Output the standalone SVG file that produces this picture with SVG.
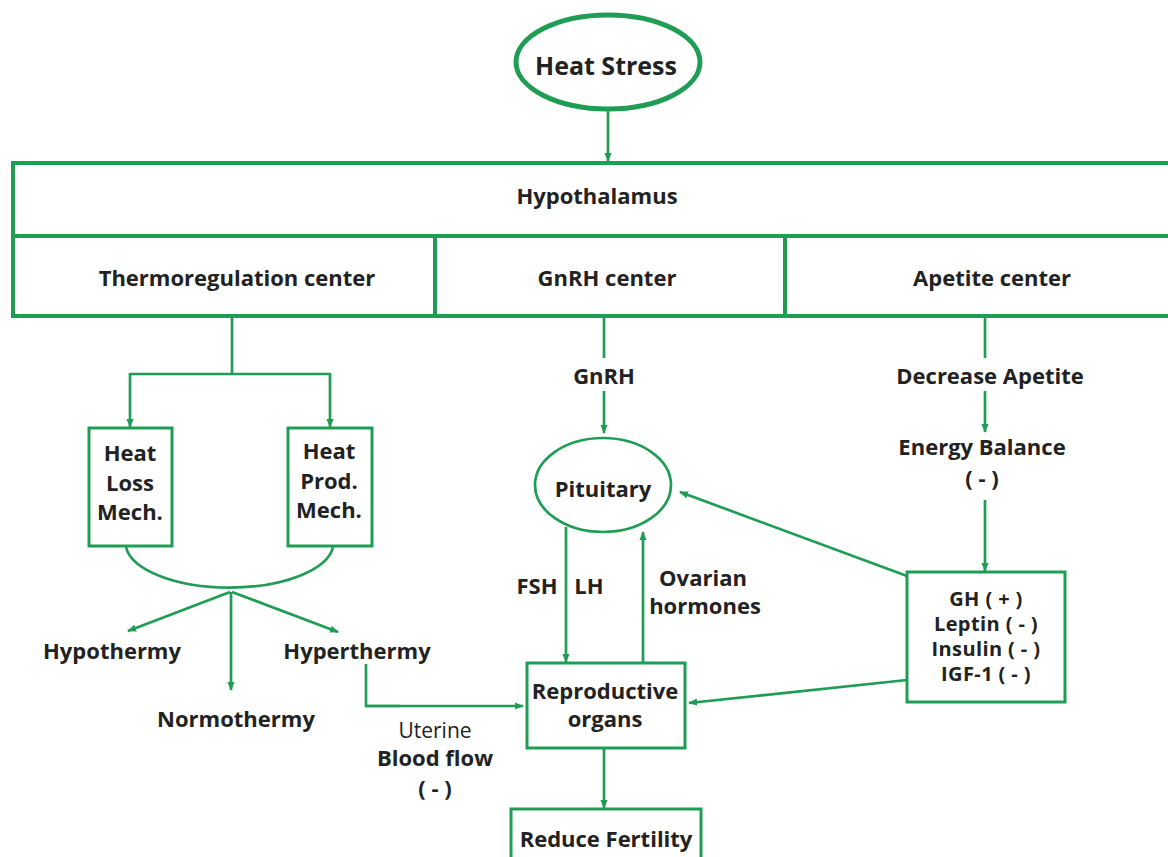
<svg xmlns="http://www.w3.org/2000/svg" width="1168" height="857" viewBox="0 0 1168 857">
<defs>
<marker id="ah" viewBox="0 0 10 10" refX="9" refY="5" markerWidth="9" markerHeight="9" markerUnits="userSpaceOnUse" orient="auto">
<path d="M0,1 L10,5 L0,9 z" fill="#1f9d55"/>
</marker>
<style>
text{font-family:"Open Sans","Noto Sans","Liberation Sans",sans-serif;font-weight:700;fill:#222;text-anchor:middle;dominant-baseline:central;font-size:22px}
.n{font-weight:400;font-size:21px}
.s{font-size:20px;letter-spacing:0.4px}
.box{fill:#fff;stroke:#1f9d55;stroke-width:3}
.con{fill:none;stroke:#1f9d55;stroke-width:2.7}
.arr{fill:none;stroke:#1f9d55;stroke-width:2.7;marker-end:url(#ah)}
</style>
</defs>
<rect width="1168" height="857" fill="#fff"/>
<g id="connectors">
<path class="arr" d="M608,110 V161"/>
<path class="con" d="M232,316 V374 M130,374 H330"/>
<path class="arr" d="M130,373 V427"/>
<path class="arr" d="M330,373 V427"/>
<path class="con" d="M126,547 A104,45 0 0 0 333,547"/>
<path class="arr" d="M230,592 L128,631"/>
<path class="arr" d="M231,592 V690"/>
<path class="arr" d="M232,592 L338,632"/>
<path class="con" d="M366,664 V706 H400"/>
<path class="arr" d="M366,706 H523"/>
<path class="con" d="M604,316 V358"/>
<path class="arr" d="M604,391 V433"/>
<path class="arr" d="M566,527 V662"/>
<path class="arr" d="M643,663 V532"/>
<path class="arr" d="M604,748 V808"/>
<path class="con" d="M985,316 V358"/>
<path class="arr" d="M985,391 V432"/>
<path class="arr" d="M985,500 V571"/>
<path class="arr" d="M907,576 L680,492"/>
<path class="arr" d="M907,680 L689,703"/>
</g>
<g id="heat-stress">
<ellipse cx="608" cy="62" rx="92" ry="47" fill="#fff" stroke="#1f9d55" stroke-width="5"/>
<text x="606" y="65" style="font-size:25px">Heat Stress</text>
</g>
<g id="hypothalamus">
<rect x="13" y="163" width="1170" height="153" fill="#fff" stroke="#1f9d55" stroke-width="4"/>
<line x1="13" y1="236" x2="1168" y2="236" stroke="#1f9d55" stroke-width="4"/>
<text x="597" y="195">Hypothalamus</text>
</g>
<g id="thermoregulation-center">
<text x="237" y="277">Thermoregulation center</text>
</g>
<g id="gnrh-center">
<line x1="435" y1="236" x2="435" y2="316" stroke="#1f9d55" stroke-width="4"/>
<text x="607" y="277">GnRH center</text>
</g>
<g id="apetite-center">
<line x1="785" y1="236" x2="785" y2="316" stroke="#1f9d55" stroke-width="4"/>
<text x="992" y="277">Apetite center</text>
</g>
<g id="heat-loss">
<rect class="box" x="89" y="428" width="83" height="118"/>
<text x="130" y="452">Heat</text>
<text x="130" y="482">Loss</text>
<text x="130" y="511">Mech.</text>
</g>
<g id="heat-prod">
<rect class="box" x="288" y="428" width="84" height="118"/>
<text x="329" y="450">Heat</text>
<text x="329" y="480">Prod.</text>
<text x="329" y="509">Mech.</text>
</g>
<g id="hypothermy"><text x="112" y="650">Hypothermy</text></g>
<g id="normothermy"><text x="236" y="718">Normothermy</text></g>
<g id="hyperthermy"><text x="357" y="650">Hyperthermy</text></g>
<g id="uterine-label">
<text class="n" x="435" y="730">Uterine</text>
<text x="435" y="757">Blood flow</text>
<text x="435" y="787">( - )</text>
</g>
<g id="gnrh-label"><text x="604" y="375">GnRH</text></g>
<g id="pituitary">
<ellipse cx="603" cy="485" rx="68" ry="47" fill="#fff" stroke="#1f9d55" stroke-width="2.7"/>
<text x="603" y="488">Pituitary</text>
</g>
<g id="fsh-lh-label">
<text x="537" y="585">FSH</text>
<text x="589" y="585">LH</text>
</g>
<g id="ovarian-label">
<text x="703" y="577">Ovarian</text>
<text x="705" y="605">hormones</text>
</g>
<g id="reproductive-organs">
<rect class="box" x="527" y="663" width="158" height="85"/>
<text x="605" y="690">Reproductive</text>
<text x="605" y="718">organs</text>
</g>
<g id="reduce-fertility">
<rect class="box" x="511" y="809" width="190" height="60"/>
<text x="606" y="838">Reduce Fertility</text>
</g>
<g id="decrease-apetite"><text x="990" y="375">Decrease Apetite</text></g>
<g id="energy-balance">
<text x="982" y="446">Energy Balance</text>
<text x="982" y="477">( - )</text>
</g>
<g id="hormones">
<rect class="box" x="907" y="572" width="158" height="130"/>
<text class="s" x="986" y="598">GH ( + )</text>
<text class="s" x="986" y="623">Leptin ( - )</text>
<text class="s" x="986" y="648">Insulin ( - )</text>
<text class="s" x="986" y="673">IGF-1 ( - )</text>
</g>
</svg>
